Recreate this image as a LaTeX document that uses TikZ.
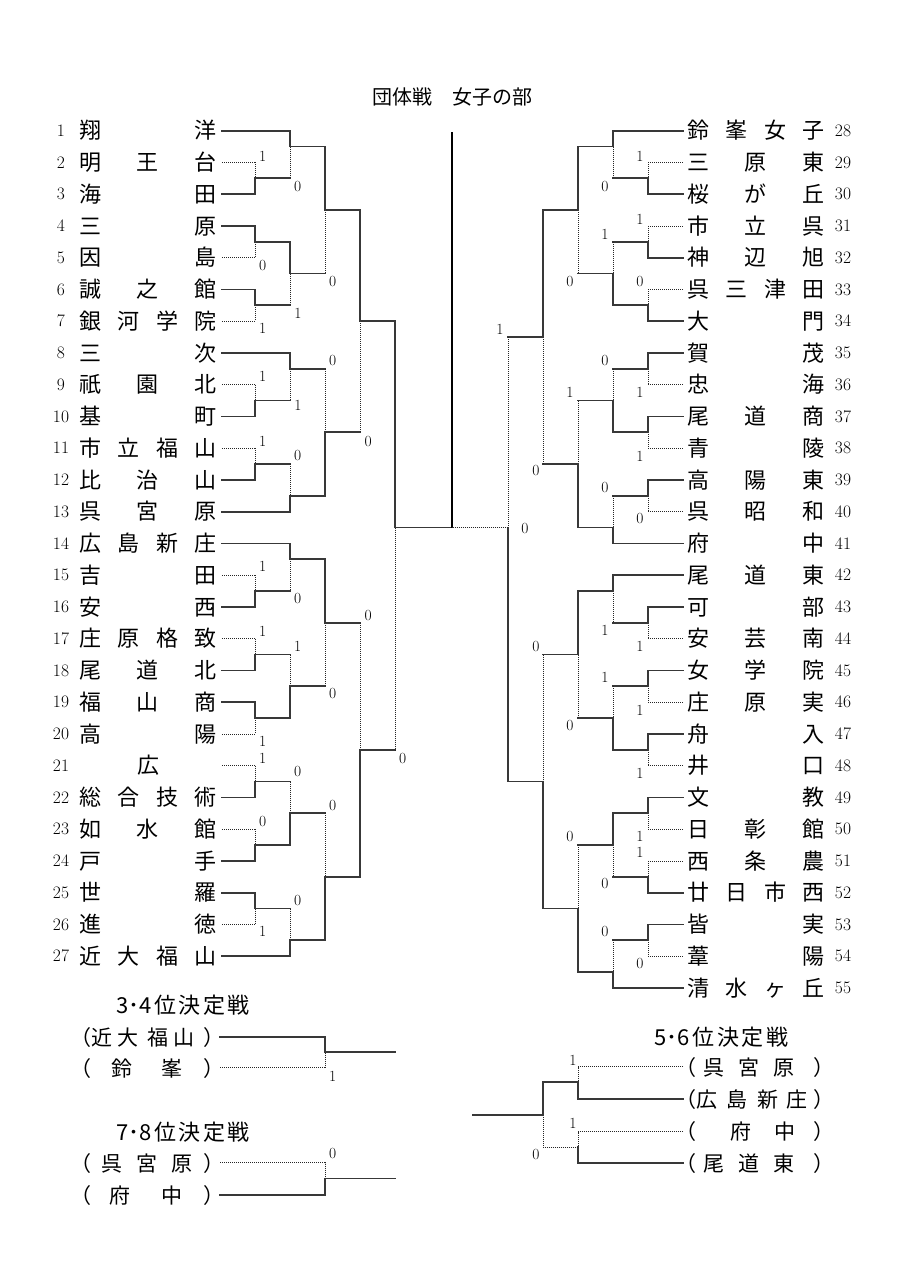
\documentclass[tikz,border=0pt]{standalone}
\usepackage{fontspec}
\newfontfamily\jpf{Noto Sans CJK JP}
\newfontfamily\jph[RawFeature=+halt]{Noto Sans CJK JP}
\newcounter{lblc}
\newcounter{chrc}
\newcommand\Ry[1]{130.7+(#1-1)*31.75}
\newcommand\MatchT[4]{\draw[win] (#1,{\Ry{#2}}) -- (#1,{\Ry{#4}}); \draw[lose] (#1,{\Ry{#4}}) -- (#1,{\Ry{#3}});}
\newcommand\MatchB[4]{\draw[lose] (#1,{\Ry{#2}}) -- (#1,{\Ry{#4}}); \draw[win] (#1,{\Ry{#4}}) -- (#1,{\Ry{#3}});}
\newcommand\OutH[3]{\draw[win] (#1,{\Ry{#3}}) -- (#2,{\Ry{#3}});}
\newcommand\TeamL[4]{\node[nm] (L#1) at (148,{\Ry{#1}}) {\makebox[137pt][l]{#2}};
  \node[num] (NL#1) at (61,{\Ry{#1}}) {#1};
  \draw[#3] ([xshift=5.5pt]L#1.east) -- (L#1.east -| #4);}
\newcommand\TeamR[4]{\node[nm] (R#1) at (756,{\Ry{#1-27}}) {\makebox[137pt][l]{#2}};
  \node[num] (NR#1) at (843,{\Ry{#1-27}}) {#1};
  \draw[#3] ([xshift=-4.5pt]R#1.west) -- (R#1.west -| #4);}
\newcommand\ScL[3]{\stepcounter{lblc}\node[sl] (S\arabic{lblc}) at (#1,#2) {#3};}
\newcommand\Chr[3]{\stepcounter{chrc}\node[bt] (C\arabic{chrc}) at (#1,#2) {#3};}
\newcommand\ChrP[3]{\stepcounter{chrc}\node[bp] (C\arabic{chrc}) at (#1,#2) {#3};}
\begin{document}
\begin{tikzpicture}[x=1pt,y=-1pt,
  win/.style={line width=1.7pt, draw=black!78, line cap=rect},
  lose/.style={line width=0.7pt, draw=black!85, dash pattern=on 1pt off 1pt},
  final/.style={line width=1.5pt, draw=black},
  nm/.style={inner sep=0pt, font=\jpf\fontsize{22}{22}\selectfont, text height=16.5pt, text depth=0pt},
  num/.style={inner sep=0pt, font=\fontsize{17.5}{17.5}\selectfont, text height=11.5pt, text depth=0pt},
  sl/.style={inner sep=0pt, font=\fontsize{15.5}{15.5}\selectfont, text height=10.2pt, text depth=0pt},
  bt/.style={inner sep=0pt, font=\jpf\fontsize{21}{21}\selectfont, text height=15.75pt, text depth=0pt},
  bp/.style={inner sep=0pt, font=\jph\fontsize{21}{21}\selectfont, text height=15.75pt, text depth=0pt},
  hd/.style={inner sep=0pt, font=\jpf\fontsize{20}{20}\selectfont, text height=15pt, text depth=0pt},
  hd2/.style={inner sep=0pt, font=\jpf\fontsize{22}{22}\selectfont, text height=16.5pt, text depth=0pt}]
\fill[white] (0,0) rectangle (905,1280);
\path[use as bounding box] (0,0) rectangle (905,1280);
% columns
\coordinate (c1) at (255,0); \coordinate (c2) at (290,0); \coordinate (c3) at (325,0);
\coordinate (c4) at (360,0); \coordinate (c5) at (395,0);
\coordinate (d1) at (648.3,0); \coordinate (d2) at (613.3,0); \coordinate (d3) at (578.3,0);
\coordinate (d4) at (543.3,0); \coordinate (d5) at (508.3,0);
% title
\node[hd] (title) at (452,97) {団体戦　女子の部};
% ---------------- left teams
\TeamL{1}{翔\hfill 洋}{win}{c2}
\TeamL{2}{明\hfill 王\hfill 台}{lose}{c1}
\TeamL{3}{海\hfill 田}{win}{c1}
\TeamL{4}{三\hfill 原}{win}{c1}
\TeamL{5}{因\hfill 島}{lose}{c1}
\TeamL{6}{誠\hfill 之\hfill 館}{win}{c1}
\TeamL{7}{銀\hfill 河\hfill 学\hfill 院}{lose}{c1}
\TeamL{8}{三\hfill 次}{win}{c2}
\TeamL{9}{祇\hfill 園\hfill 北}{lose}{c1}
\TeamL{10}{基\hfill 町}{win}{c1}
\TeamL{11}{市\hfill 立\hfill 福\hfill 山}{lose}{c1}
\TeamL{12}{比\hfill 治\hfill 山}{win}{c1}
\TeamL{13}{呉\hfill 宮\hfill 原}{win}{c2}
\TeamL{14}{広\hfill 島\hfill 新\hfill 庄}{win}{c2}
\TeamL{15}{吉\hfill 田}{lose}{c1}
\TeamL{16}{安\hfill 西}{win}{c1}
\TeamL{17}{庄\hfill 原\hfill 格\hfill 致}{lose}{c1}
\TeamL{18}{尾\hfill 道\hfill 北}{win}{c1}
\TeamL{19}{福\hfill 山\hfill 商}{win}{c1}
\TeamL{20}{高\hfill 陽}{lose}{c1}
\TeamL{21}{\hfill 広\hfill}{lose}{c1}
\TeamL{22}{総\hfill 合\hfill 技\hfill 術}{win}{c1}
\TeamL{23}{如\hfill 水\hfill 館}{lose}{c1}
\TeamL{24}{戸\hfill 手}{win}{c1}
\TeamL{25}{世\hfill 羅}{win}{c1}
\TeamL{26}{進\hfill 徳}{lose}{c1}
\TeamL{27}{近\hfill 大\hfill 福\hfill 山}{win}{c2}
% left round 1
\MatchB{255}{2}{3}{2.5} \MatchT{255}{4}{5}{4.5} \MatchT{255}{6}{7}{6.5}
\MatchB{255}{9}{10}{9.5} \MatchB{255}{11}{12}{11.5} \MatchB{255}{15}{16}{15.5}
\MatchB{255}{17}{18}{17.5} \MatchT{255}{19}{20}{19.5} \MatchB{255}{21}{22}{21.5}
\MatchB{255}{23}{24}{23.5} \MatchT{255}{25}{26}{25.5}
\foreach \r in {2.5,4.5,6.5,9.5,11.5,15.5,17.5,19.5,21.5,23.5,25.5} {\OutH{255}{290}{\r}}
% left round 2
\MatchT{290}{1}{2.5}{1.5} \MatchT{290}{4.5}{6.5}{5.5} \MatchT{290}{8}{9.5}{8.5}
\MatchB{290}{11.5}{13}{12.5} \MatchT{290}{14}{15.5}{14.5} \MatchB{290}{17.5}{19.5}{18.5}
\MatchB{290}{21.5}{23.5}{22.5} \MatchB{290}{25.5}{27}{26.5}
\foreach \r in {1.5,5.5,8.5,12.5,14.5,18.5,22.5,26.5} {\OutH{290}{325}{\r}}
% left round 3
\MatchT{325}{1.5}{5.5}{3.5} \MatchB{325}{8.5}{12.5}{10.5}
\MatchT{325}{14.5}{18.5}{16.5} \MatchB{325}{22.5}{26.5}{24.5}
\foreach \r in {3.5,10.5,16.5,24.5} {\OutH{325}{360}{\r}}
% left quarter
\MatchT{360}{3.5}{10.5}{7} \MatchB{360}{16.5}{24.5}{20.5}
\foreach \r in {7,20.5} {\OutH{360}{395}{\r}}
% left semi
\MatchT{395}{7}{20.5}{13.5}
\coordinate (fin) at (452,{\Ry{13.5}});
\coordinate (top) at (452,132);
\draw[win] (395,{\Ry{13.5}}) -- (fin);
\draw[final] (fin) -- (top);
% ---------------- right teams
\TeamR{28}{鈴\hfill 峯\hfill 女\hfill 子}{win}{d2}
\TeamR{29}{三\hfill 原\hfill 東}{lose}{d1}
\TeamR{30}{桜\hfill が\hfill 丘}{win}{d1}
\TeamR{31}{市\hfill 立\hfill 呉}{lose}{d1}
\TeamR{32}{神\hfill 辺\hfill 旭}{win}{d1}
\TeamR{33}{呉\hfill 三\hfill 津\hfill 田}{lose}{d1}
\TeamR{34}{大\hfill 門}{win}{d1}
\TeamR{35}{賀\hfill 茂}{win}{d1}
\TeamR{36}{忠\hfill 海}{lose}{d1}
\TeamR{37}{尾\hfill 道\hfill 商}{win}{d1}
\TeamR{38}{青\hfill 陵}{lose}{d1}
\TeamR{39}{高\hfill 陽\hfill 東}{win}{d1}
\TeamR{40}{呉\hfill 昭\hfill 和}{lose}{d1}
\TeamR{41}{府\hfill 中}{win}{d2}
\TeamR{42}{尾\hfill 道\hfill 東}{win}{d2}
\TeamR{43}{可\hfill 部}{win}{d1}
\TeamR{44}{安\hfill 芸\hfill 南}{lose}{d1}
\TeamR{45}{女\hfill 学\hfill 院}{win}{d1}
\TeamR{46}{庄\hfill 原\hfill 実}{lose}{d1}
\TeamR{47}{舟\hfill 入}{win}{d1}
\TeamR{48}{井\hfill 口}{lose}{d1}
\TeamR{49}{文\hfill 教}{win}{d1}
\TeamR{50}{日\hfill 彰\hfill 館}{lose}{d1}
\TeamR{51}{西\hfill 条\hfill 農}{lose}{d1}
\TeamR{52}{廿\hfill 日\hfill 市\hfill 西}{win}{d1}
\TeamR{53}{皆\hfill 実}{win}{d1}
\TeamR{54}{葦\hfill 陽}{lose}{d1}
\TeamR{55}{清\hfill 水\hfill ヶ\hfill 丘}{win}{d2}
% right round 1
\MatchB{648.3}{2}{3}{2.5} \MatchB{648.3}{4}{5}{4.5} \MatchB{648.3}{6}{7}{6.5}
\MatchT{648.3}{8}{9}{8.5} \MatchT{648.3}{10}{11}{10.5} \MatchT{648.3}{12}{13}{12.5}
\MatchT{648.3}{16}{17}{16.5} \MatchT{648.3}{18}{19}{18.5} \MatchT{648.3}{20}{21}{20.5}
\MatchT{648.3}{22}{23}{22.5} \MatchB{648.3}{24}{25}{24.5} \MatchT{648.3}{26}{27}{26.5}
\foreach \r in {2.5,4.5,6.5,8.5,10.5,12.5,16.5,18.5,20.5,22.5,24.5,26.5} {\OutH{648.3}{613.3}{\r}}
% right round 2
\MatchT{613.3}{1}{2.5}{1.5} \MatchB{613.3}{4.5}{6.5}{5.5} \MatchB{613.3}{8.5}{10.5}{9.5}
\MatchB{613.3}{12.5}{14}{13.5} \MatchT{613.3}{15}{16.5}{15.5} \MatchB{613.3}{18.5}{20.5}{19.5}
\MatchT{613.3}{22.5}{24.5}{23.5} \MatchB{613.3}{26.5}{28}{27.5}
\foreach \r in {1.5,5.5,9.5,13.5,15.5,19.5,23.5,27.5} {\OutH{613.3}{578.3}{\r}}
% right round 3
\MatchT{578.3}{1.5}{5.5}{3.5} \MatchB{578.3}{9.5}{13.5}{11.5}
\MatchT{578.3}{15.5}{19.5}{17.5} \MatchB{578.3}{23.5}{27.5}{25.5}
\foreach \r in {3.5,11.5,17.5,25.5} {\OutH{578.3}{543.3}{\r}}
% right quarter
\MatchT{543.3}{3.5}{11.5}{7.5} \MatchB{543.3}{17.5}{25.5}{21.5}
\foreach \r in {7.5,21.5} {\OutH{543.3}{508.3}{\r}}
% right semi
\MatchB{508.3}{7.5}{21.5}{13.5}
\coordinate (rfin) at (508.3,{\Ry{13.5}});
\draw[lose] (rfin) -- (fin);
% ---------------- score labels
\ScL{262.7}{156}{1} \ScL{297.7}{186}{0} \ScL{262.7}{265}{0} \ScL{332.7}{281.7}{0}
\ScL{298}{313.3}{1} \ScL{262.7}{328.3}{1} \ScL{332.7}{360}{0} \ScL{262.7}{376.7}{1}
\ScL{298}{405}{1} \ScL{262.7}{441.7}{1} \ScL{368.3}{441.7}{0} \ScL{297.7}{455}{0}
\ScL{262.7}{566.7}{1} \ScL{297.7}{598.3}{0} \ScL{368.3}{615}{0} \ScL{262.7}{631.7}{1}
\ScL{297.7}{646.7}{1} \ScL{332.7}{693.3}{0} \ScL{262.7}{741.7}{1} \ScL{402.7}{758.3}{0}
\ScL{262.7}{758.3}{1} \ScL{297.7}{771.7}{0} \ScL{332.7}{805}{0} \ScL{262.7}{821.7}{0}
\ScL{297.7}{900}{0} \ScL{262.7}{931.7}{1}
\ScL{640}{156}{1} \ScL{605}{186}{0} \ScL{640}{219.3}{1} \ScL{605}{234}{1}
\ScL{570}{281.7}{0} \ScL{640}{281.7}{0} \ScL{500}{329}{1} \ScL{605}{360}{0}
\ScL{570}{392.7}{1} \ScL{640}{392.7}{1} \ScL{640}{456}{1} \ScL{536}{470.7}{0}
\ScL{605}{487.3}{0} \ScL{640}{518.3}{0} \ScL{525}{528.3}{0} \ScL{605}{630.7}{1}
\ScL{640}{646}{1} \ScL{536}{646}{0} \ScL{605}{677.3}{1} \ScL{640}{710}{1}
\ScL{570}{725}{0} \ScL{640}{773.3}{1} \ScL{570}{836.7}{0} \ScL{640}{836.7}{1}
\ScL{640}{852.7}{1} \ScL{605}{883.3}{0} \ScL{605}{931.7}{0} \ScL{640}{963.3}{0}
% ---------------- 3-4 place
\node[hd2] (h34) at (183,1005) {\makebox[134pt][s]{3･4\hfill 位\hfill 決\hfill 定\hfill 戦}};
\ChrP{86}{1038}{（} \Chr{102}{1038}{近} \Chr{128}{1038}{大} \Chr{158}{1038}{福} \Chr{184}{1038}{山} \ChrP{209}{1038}{）}
\ChrP{86}{1069}{（} \Chr{122}{1069}{鈴} \Chr{172}{1069}{峯} \ChrP{209}{1069}{）}
\coordinate (a1) at (220,1037); \coordinate (a2) at (220,1067.3);
\coordinate (am) at (325,1052); \coordinate (ao) at (395,1052);
\draw[win] (a1) -| (am);
\draw[lose] (a2) -| (am);
\draw[win] (am) -- (ao);
\ScL{332.7}{1076}{1}
% ---------------- 7-8 place
\node[hd2] (h78) at (183,1132) {\makebox[134pt][s]{7･8\hfill 位\hfill 決\hfill 定\hfill 戦}};
\ChrP{86}{1164}{（} \Chr{112}{1164}{呉} \Chr{147}{1164}{宮} \Chr{182}{1164}{原} \ChrP{209}{1164}{）}
\ChrP{86}{1196}{（} \Chr{120}{1196}{府} \Chr{172}{1196}{中} \ChrP{209}{1196}{）}
\coordinate (b1) at (220,1162.7); \coordinate (b2) at (220,1195);
\coordinate (bm) at (325,1178.5); \coordinate (bo) at (395,1178.5);
\draw[lose] (b1) -| (bm);
\draw[win] (b2) -| (bm);
\draw[win] (bm) -- (bo);
\ScL{332.7}{1153}{0}
% ---------------- 5-6 place
\node[hd2] (h56) at (721.5,1037) {\makebox[134pt][s]{5･6\hfill 位\hfill 決\hfill 定\hfill 戦}};
\ChrP{691.5}{1068}{（} \Chr{714}{1068}{呉} \Chr{749}{1068}{宮} \Chr{784}{1068}{原} \ChrP{818.5}{1068}{）}
\ChrP{691.5}{1100}{（} \Chr{707}{1100}{広} \Chr{737}{1100}{島} \Chr{768}{1100}{新} \Chr{797}{1100}{庄} \ChrP{818.5}{1100}{）}
\ChrP{691.5}{1132}{（} \Chr{741}{1132}{府} \Chr{785}{1132}{中} \ChrP{818.5}{1132}{）}
\ChrP{691.5}{1164}{（} \Chr{714}{1164}{尾} \Chr{749}{1164}{道} \Chr{784}{1164}{東} \ChrP{818.5}{1164}{）}
\coordinate (e1) at (683,1066.7); \coordinate (e2) at (683,1099.3);
\coordinate (e3) at (683,1131.7); \coordinate (e4) at (683,1162.7);
\coordinate (em1) at (578.3,1082); \coordinate (em2) at (578.3,1147);
\coordinate (en) at (543.3,1115); \coordinate (eo) at (473,1115);
\draw[lose] (e1) -| (em1);
\draw[win] (e2) -| (em1);
\draw[lose] (e3) -| (em2);
\draw[win] (e4) -| (em2);
\draw[win] (em1) -| (en);
\draw[lose] (em2) -| (en);
\draw[win] (en) -- (eo);
\ScL{573}{1060}{1} \ScL{573}{1123}{1} \ScL{536}{1154}{0}
\end{tikzpicture}
\end{document}
